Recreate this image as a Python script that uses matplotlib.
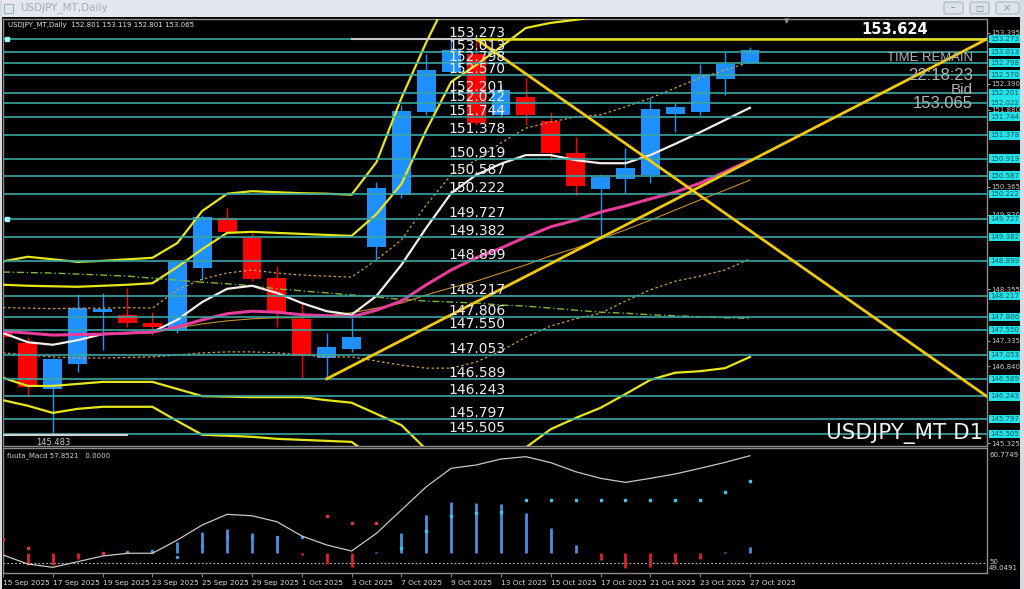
import numpy as np
import matplotlib.pyplot as plt
from matplotlib.patches import Rectangle, FancyBboxPatch
from matplotlib.transforms import blended_transform_factory

W, H = 1024, 589

dates = ['15 Sep 2025', '16 Sep 2025', '17 Sep 2025', '18 Sep 2025', '19 Sep 2025',
         '22 Sep 2025', '23 Sep 2025', '24 Sep 2025', '25 Sep 2025', '26 Sep 2025',
         '29 Sep 2025', '30 Sep 2025', '1 Oct 2025', '2 Oct 2025', '3 Oct 2025',
         '6 Oct 2025', '7 Oct 2025', '8 Oct 2025', '9 Oct 2025', '10 Oct 2025',
         '13 Oct 2025', '14 Oct 2025', '15 Oct 2025', '16 Oct 2025', '17 Oct 2025',
         '20 Oct 2025', '21 Oct 2025', '22 Oct 2025', '23 Oct 2025', '24 Oct 2025',
         '27 Oct 2025']

opens = [147.55, 147.30, 146.39, 146.88, 147.90, 147.85, 147.69, 147.53, 148.77, 149.75,
         149.36, 148.57, 147.77, 147.00, 147.18, 149.18, 150.21, 151.84, 152.62, 152.98,
         151.78, 152.13, 151.66, 151.03, 150.32, 150.52, 150.60, 151.80, 151.84, 152.49, 152.801]
highs = [147.62, 147.41, 147.00, 148.26, 148.28, 148.38, 147.90, 148.91, 149.81, 149.95,
         149.46, 148.81, 148.08, 147.49, 147.79, 150.46, 151.98, 152.98, 153.25, 153.273,
         152.37, 152.51, 151.84, 151.35, 150.62, 151.13, 152.13, 152.01, 152.78, 153.02, 153.119]
lows = [147.30, 146.23, 145.483, 146.72, 147.16, 147.61, 147.45, 147.49, 148.53, 149.44,
        148.51, 147.61, 146.589, 146.589, 147.12, 148.93, 150.15, 151.78, 152.59, 151.58,
        151.74, 151.58, 150.89, 150.21, 149.36, 150.24, 150.44, 151.44, 151.78, 152.17, 152.801]
closes = [147.41, 146.43, 146.98, 147.98, 147.96, 147.69, 147.61, 148.89, 149.77, 149.48,
          148.55, 147.88, 147.04, 147.22, 147.41, 150.34, 151.86, 152.66, 153.06, 151.62,
          152.27, 151.78, 151.03, 150.38, 150.56, 150.74, 151.90, 151.94, 152.57, 152.78, 153.065]

# bands and moving averages
band_up3 = [148.90, 148.99, 148.94, 148.89, 148.91, 148.94, 148.97, 149.26, 149.89, 150.23,
            150.28, 150.26, 150.24, 150.23, 150.21, 150.85, 152.11, 153.21, 154.20, 154.60,
            154.90, 155.10, 155.10, 155.10, 155.00, 154.90, 154.90, 154.90, 155.00, 155.10, 155.20]
band_up2 = [148.44, 148.42, 148.41, 148.40, 148.42, 148.44, 148.47, 148.79, 149.14, 149.46,
            149.48, 149.46, 149.44, 149.42, 149.40, 149.83, 150.42, 151.48, 152.43, 152.76,
            153.12, 153.49, 153.59, 153.65, 153.72, 153.70, 153.74, 153.76, 153.85, 153.95, 154.05]
band_dn2 = [146.61, 146.45, 146.45, 146.49, 146.53, 146.53, 146.53, 146.39, 146.25, 146.24,
            146.23, 146.23, 146.23, 146.17, 146.12, 145.90, 145.68, 145.20, 145.00, 145.00,
            145.10, 145.24, 145.60, 145.82, 146.02, 146.29, 146.57, 146.71, 146.74, 146.80, 147.02]
band_dn3 = [146.17, 146.06, 145.92, 146.00, 146.04, 146.04, 146.04, 145.76, 145.49, 145.47,
            145.45, 145.41, 145.39, 145.37, 145.35, 145.00, 144.60, 144.20, 143.90, 143.80,
            143.70, 143.70, 143.80, 144.00, 144.20, 144.50, 144.70, 144.80, 144.90, 145.00, 145.10]
band_up1 = [147.99, 147.98, 147.97, 147.98, 147.98, 147.99, 147.98, 148.34, 148.55, 148.67,
            148.73, 148.67, 148.63, 148.61, 148.59, 148.93, 149.32, 150.01, 150.60, 150.89,
            151.23, 151.52, 151.64, 151.74, 151.78, 151.94, 152.11, 152.31, 152.51, 152.66, 152.82]
band_dn1 = [147.10, 147.06, 147.02, 147.00, 147.00, 147.01, 147.02, 147.06, 147.10, 147.12,
            147.12, 147.10, 147.06, 147.02, 147.02, 146.94, 146.86, 146.80, 146.80, 146.92,
            147.14, 147.41, 147.63, 147.77, 147.88, 148.12, 148.34, 148.51, 148.61, 148.73, 148.95]
ma_long = [148.69, 148.68, 148.67, 148.65, 148.63, 148.61, 148.57, 148.53, 148.49, 148.46,
           148.42, 148.36, 148.32, 148.28, 148.24, 148.20, 148.15, 148.12, 148.10, 148.08,
           148.04, 148.02, 147.98, 147.94, 147.90, 147.88, 147.85, 147.83, 147.81, 147.79, 147.78]
ma_white = [147.49, 147.31, 147.26, 147.35, 147.47, 147.49, 147.51, 147.75, 148.10, 148.36,
            148.42, 148.28, 148.08, 147.92, 147.85, 148.22, 148.83, 149.56, 150.24, 150.60,
            150.82, 150.99, 150.99, 150.89, 150.83, 150.83, 150.99, 151.21, 151.44, 151.68, 151.92]
ma_magenta = [147.53, 147.49, 147.45, 147.46, 147.47, 147.49, 147.51, 147.61, 147.75, 147.87,
              147.92, 147.90, 147.85, 147.83, 147.81, 147.94, 148.12, 148.44, 148.73, 148.97,
              149.16, 149.38, 149.58, 149.71, 149.87, 149.99, 150.13, 150.26, 150.44, 150.66, 150.89]
ma_orange = [np.nan] * 6 + [147.51, 147.59, 147.67, 147.73, 147.77, 147.79, 147.79, 147.83,
                            147.89, 147.98, 148.08, 148.24, 148.38, 148.51, 148.67, 148.83,
                            149.01, 149.16, 149.34, 149.52, 149.71, 149.91, 150.11, 150.30, 150.50]

levels = [153.273, 153.013, 152.798, 152.570, 152.201, 152.022, 151.744, 151.378, 150.919,
          150.587, 150.222, 149.727, 149.382, 148.899, 148.217, 147.806, 147.550, 147.053,
          146.589, 146.243, 145.797, 145.505]
marked_levels = [153.273, 149.727]
axis_ticks = [153.395, 152.390, 151.880, 150.365, 149.820, 148.355, 147.335, 146.840, 145.325]

trend_up = ([13, 39.52], [146.589, 153.273])
trend_dn = ([19, 39.52], [153.273, 146.243])
top_white = ([14, 19], [153.273, 153.273])
top_yellow = ([19, 39.52], [153.273, 153.273])
low_white = ([0, 5], [145.483, 145.483])

# oscillator panel
osc_line = [50.74, 49.89, 49.58, 50.11, 50.64, 50.90, 50.90, 52.14, 53.55, 54.55, 54.42,
            53.86, 52.52, 51.68, 51.11, 52.77, 54.96, 57.14, 58.87, 59.18, 59.74, 59.96,
            59.40, 58.55, 57.93, 57.55, 57.93, 58.34, 58.87, 59.43, 60.05]
osc_hist = [-0.2, -1.1, -1.1, -0.5, -0.15, 0.2, 0.3, 1.1, 2.0, 2.3, 1.9, 1.6, -0.15, -1.0,
            -1.25, 0.15, 1.9, 3.6, 4.8, 4.7, 4.6, 3.8, 2.4, 0.8, -0.6, -1.35, -1.25, -1.0,
            -0.5, 0.15, 0.6]
hist_base = 50.89
osc_dots = [52.21, 51.36, np.nan, np.nan, 50.95, 51.05, 51.14, 50.52, 51.61, 52.39, 52.46,
            52.39, 52.46, 54.40, 53.71, 53.71, 51.36, 53.02, 54.40, 54.71, 54.80, 55.90,
            55.90, 55.90, 55.90, 55.90, 55.90, 55.90, 55.90, 56.68, 57.71]
dot_side = [-1, -1, -1, -1, -1, 1, 1, 1, 1, 1, 1, 1, 1, -1, -1, -1, 2, 2, 2, 2, 2, 2, 2, 2,
            2, 2, 2, 2, 2, 2, 2]

bull, bear = '#1e90ff', '#ff0000'
level_col = '#3aa6a2'
band_col = '#e6e619'
gold = '#f2c80f'

fig = plt.figure(figsize=(W / 100, H / 100), dpi=100, facecolor='black')


def fx(px):
    return px / W


def fy(py):
    return 1 - py / H


# window chrome
fig.patches.append(Rectangle((0, fy(17)), 1, 17 / H, transform=fig.transFigure,
                             fc='#e4e8ee', ec='none', zorder=0))
fig.patches.append(Rectangle((fx(1020), 0), 4 / W, 1, transform=fig.transFigure,
                             fc='#d6dbe2', ec='none', zorder=0))
fig.patches.append(Rectangle((0, 0), 2 / W, 1, transform=fig.transFigure,
                             fc='#d6dbe2', ec='none', zorder=0))
fig.patches.append(Rectangle((fx(4), fy(13)), 9 / W, 9 / H, transform=fig.transFigure,
                             fc='#dfe6ee', ec='#9fb0c4', lw=0.8, zorder=1))
for bx, bw in [(944, 19), (970, 19), (996, 23)]:
    fig.patches.append(FancyBboxPatch((fx(bx), fy(14)), bw / W, 12 / H,
                                      boxstyle='round,pad=0,rounding_size=0.003',
                                      transform=fig.transFigure, fc='#dce2ea',
                                      ec='#aab4c0', lw=0.8, zorder=1))
fig.text(fx(953), fy(8), '–', color='#7a8590', fontsize=6, ha='center', va='center')
fig.text(fx(979), fy(8), '□', color='#7a8590', fontsize=6, ha='center', va='center')
fig.text(fx(1007), fy(8), '×', color='#8a95a0', fontsize=7, ha='center', va='center')
fig.text(fx(20), fy(8), 'USDJPY_MT,Daily', color='#a3acb6', fontsize=7.5, va='center')

ax = fig.add_axes([fx(3), fy(446), (987 - 3) / W, (446 - 19) / H])
ax2 = fig.add_axes([fx(3), fy(573), (987 - 3) / W, (573 - 448) / H])
for a in (ax, ax2):
    a.set_facecolor('black')
    for s in a.spines.values():
        s.set_color('#8c8c8c')
        s.set_linewidth(1)
    a.set_xlim(0, 39.52)

ax.set_ylim(145.269, 153.666)
trans = blended_transform_factory(ax.transAxes, ax.transData)

# candles
for i, (o, h, l, c) in enumerate(zip(opens, highs, lows, closes)):
    col = bull if c >= o else bear
    ax.vlines(i, l, h, color=col, lw=1, zorder=2)
    ax.add_patch(Rectangle((i - 0.38, min(o, c)), 0.76, max(abs(c - o), 0.03),
                           fc=col, ec='none', zorder=2))

x = np.arange(len(dates))
for band in (band_up3, band_up2, band_dn2, band_dn3):
    ax.plot(x, band, color=band_col, lw=1.6, zorder=3)
ax.plot(x, band_up1, color='#c8a048', lw=0.9, ls=(0, (2, 2)), zorder=3)
ax.plot(x, band_dn1, color='#c8a048', lw=0.9, ls=(0, (2, 2)), zorder=3)
ax.plot(x, ma_long, color='#7fb83a', lw=1, ls=(0, (5, 2, 1, 2)), zorder=3)
ax.plot(x, ma_orange, color='#c8902a', lw=0.8, zorder=3)
ax.plot(x, ma_white, color='#f4ece6', lw=1.6, zorder=3)
ax.plot(x, ma_magenta, color='#e83c9c', lw=2.2, zorder=3)

for lvl in levels:
    ax.axhline(lvl, color=level_col, lw=1.2, zorder=4)
for lvl in marked_levels:
    ax.plot([0.004], [lvl], transform=trans, marker='s', ms=2.5, color='#9ff', clip_on=False, zorder=6)

ax.plot(*trend_up, color=gold, lw=2, zorder=5)
ax.plot(*trend_dn, color=gold, lw=2, zorder=5)
ax.plot(*top_yellow, color='#eee21a', lw=1.8, zorder=5)
ax.plot(*top_white, color='#c8c8c8', lw=1.5, zorder=5)
ax.plot(*low_white, color='#d0d0d0', lw=1.5, zorder=5)
ax.text(2, low_white[1][0] - 0.06, f'{low_white[1][0]:.3f}', color='#c8c8c8', fontsize=6,
        ha='center', va='top', zorder=8)

for lvl in levels:
    ax.text(17.87, lvl + 0.04, f'{lvl:.3f}', color='#ececec', fontsize=10,
            ha='left', va='baseline', zorder=8)

# price axis
ax.set_xticks([])
ax.yaxis.tick_right()
ax.set_yticks(axis_ticks)
ax.set_yticklabels([f'{v:.3f}' for v in axis_ticks])
ax.tick_params(axis='y', colors='#c8c8c8', labelsize=5, length=2, width=0.6, pad=1)
for lvl in levels:
    ax.text(1.0035, lvl, f'{lvl:.3f}', transform=trans, fontsize=5, color='#005a5a',
            ha='left', va='center', clip_on=False, zorder=9,
            bbox=dict(boxstyle='square,pad=0.18', fc='#22e2ea', ec='none'))

# oscillator
ax2.set_ylim(49.0491, 60.7749)
ax2.set_yticks([])
ax2.axhline(50, color='#c8c8c8', lw=0.8, ls=(0, (1.5, 2)), zorder=2)
for i, h in enumerate(osc_hist):
    ax2.vlines(i, hist_base, hist_base + h, color='#4a90e2' if h > 0 else '#e0202a',
               lw=2, zorder=3)
dot_colors = {-1: '#e03040', 1: '#4a90e2', 2: '#40c8e8'}
for i, (v, s) in enumerate(zip(osc_dots, dot_side)):
    ax2.plot(i, v, 's', ms=1.8, color=dot_colors[s], zorder=4)
ax2.plot(x, osc_line, color='#c8c8c8', lw=0.9, zorder=5)
ax2.set_xticks(x[::2])
ax2.set_xticklabels(dates[::2], ha='left')
ax2.tick_params(axis='x', colors='#9a9a9a', labelcolor='#d8d8d8', labelsize=5.3,
                length=3, width=0.6, pad=2)

# overlay texts
fig.text(fx(8), fy(25), 'USDJPY_MT,Daily  152.801 153.119 152.801 153.065',
         color='#e0e0e0', fontsize=5, va='center')
fig.text(fx(895), fy(30), '153.624', color='white', fontsize=10.5, fontweight='bold',
         ha='center', va='center')
info = ['Liberation Sans', 'DejaVu Sans']
fig.text(fx(973), fy(58), 'TIME REMAIN', color='#b4b4b4', fontsize=9.4, family=info,
         ha='right', va='center')
fig.text(fx(973), fy(75), '22:18:23', color='#b4b4b4', fontsize=12, family=info,
         ha='right', va='center')
fig.text(fx(973), fy(90), 'Bid', color='#b4b4b4', fontsize=11, family=info,
         ha='right', va='center')
fig.text(fx(973), fy(104), '153.065', color='#b4b4b4', fontsize=12, family=info,
         ha='right', va='center')
fig.text(fx(983), fy(434), 'USDJPY_MT D1', color='#f0f0f0', fontsize=15.5,
         ha='right', va='center')
fig.text(fx(787), fy(21), '▼', color='#9a9a9a', fontsize=5, ha='center', va='center')
fig.text(fx(7), fy(456), 'fuuta_Macd 57.8521   0.0000', color='#d0d0d0', fontsize=5,
         va='center')
fig.text(fx(989), fy(455), '60.7749', color='#d0d0d0', fontsize=5, va='center')
fig.text(fx(989), fy(562), '50', color='#d0d0d0', fontsize=5, va='center')
fig.text(fx(989), fy(568), '49.0491', color='#d0d0d0', fontsize=5, va='center')

fig.savefig('out.png', dpi=100, facecolor=fig.get_facecolor())
